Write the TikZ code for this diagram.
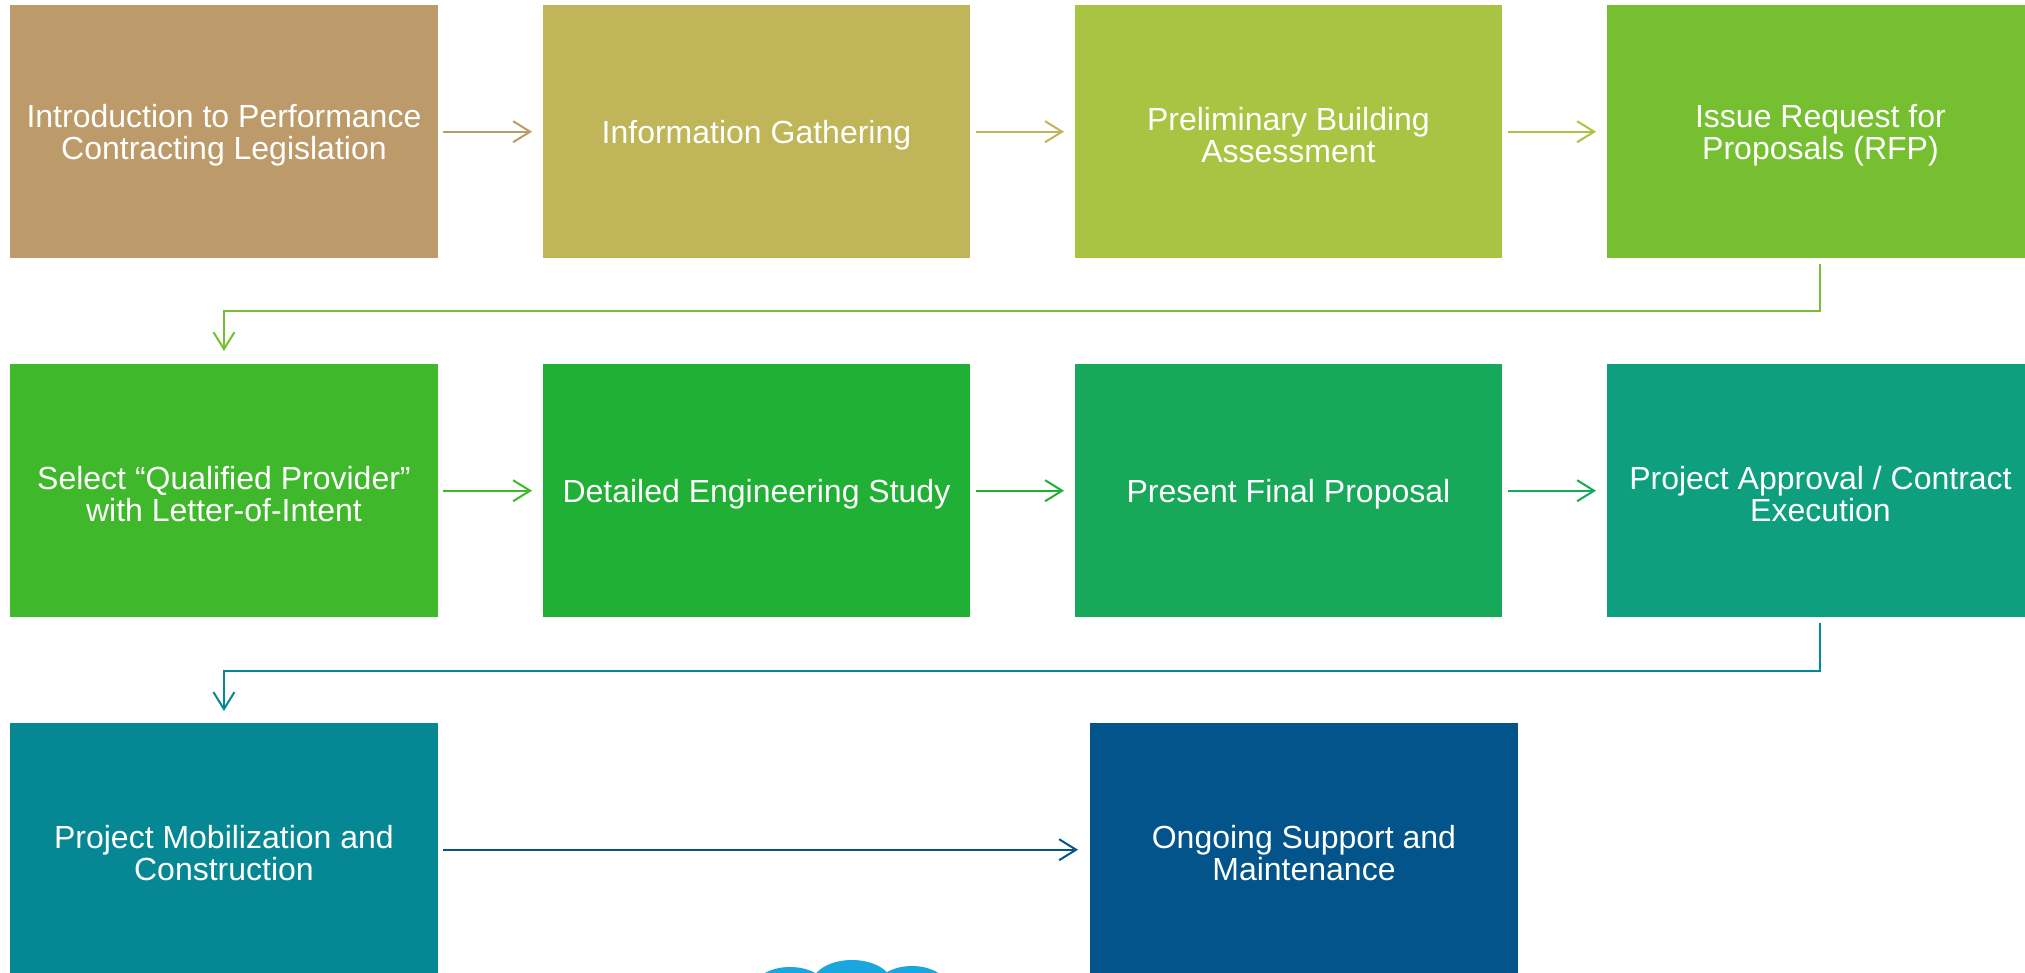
\documentclass[tikz,border=0pt]{standalone}
\usepackage{fontspec}
\setmainfont{Liberation Sans}
\usetikzlibrary{arrows.meta}

% step colours, from warm tan through greens to deep blue
\definecolor{c1}{HTML}{BC9A6A}
\definecolor{c2}{HTML}{C0B558}
\definecolor{c3}{HTML}{A9C443}
\definecolor{c4}{HTML}{76BF31}
\definecolor{c5}{HTML}{3FB82B}
\definecolor{c6}{HTML}{20B035}
\definecolor{c7}{HTML}{17A85A}
\definecolor{c8}{HTML}{0E9F7E}
\definecolor{c9}{HTML}{068894}
\definecolor{c10}{HTML}{02548A}
\definecolor{cloudblue}{HTML}{1AA7E0}

\begin{document}
\begin{tikzpicture}[x=1pt,y=-1pt,
  stepbox/.style={rectangle, fill=#1, draw=none, minimum width=427.5pt,
    minimum height=253pt, inner sep=0pt, anchor=north west},
  steptext/.style={inner sep=0pt, text=white, align=center,
    font=\fontsize{32}{32.5}\selectfont},
  flow/.style={draw=#1, line width=2pt,
    -{Straight Barb[length=17pt,width=21pt]}}]

\clip (0,0) rectangle (2025,972);
\fill[white] (0,0) rectangle (2025,972);

% row 1
\node[stepbox=c1] (s1) at (10,5)     {};
\node[stepbox=c2] (s2) at (542.5,5)  {};
\node[stepbox=c3] (s3) at (1074.5,5) {};
\node[stepbox=c4] (s4) at (1606.5,5) {};

% row 2
\node[stepbox=c5] (s5) at (10,364)     {};
\node[stepbox=c6] (s6) at (542.5,364)  {};
\node[stepbox=c7] (s7) at (1074.5,364) {};
\node[stepbox=c8] (s8) at (1606.5,364) {};

% row 3
\node[stepbox=c9]  (s9)  at (10,723)   {};
\node[stepbox=c10] (s10) at (1090,723) {};

% step captions
\node[steptext] (t1)  at ([yshift=-3.5pt]s1.center)  {Introduction to Performance\\Contracting Legislation};
\node[steptext] (t2)  at ([yshift=-3.5pt]s2.center)  {Information Gathering};
\node[steptext] (t3)  at ([yshift=-3.5pt]s3.center)  {Preliminary Building\\Assessment};
\node[steptext] (t4)  at ([yshift=-3.5pt]s4.center)  {Issue Request for\\Proposals (RFP)};
\node[steptext] (t5)  at ([yshift=-3.5pt]s5.center)  {Select “Qualified Provider”\\with Letter-of-Intent};
\node[steptext] (t6)  at ([yshift=-3.5pt]s6.center)  {Detailed Engineering Study};
\node[steptext] (t7)  at ([yshift=-3.5pt]s7.center)  {Present Final Proposal};
\node[steptext] (t8)  at ([yshift=-3.5pt]s8.center)  {Project Approval / Contract\\Execution};
\node[steptext] (t9)  at ([yshift=-3.5pt]s9.center)  {Project Mobilization and\\Construction};
\node[steptext] (t10) at ([yshift=-3.5pt]s10.center) {Ongoing Support and\\Maintenance};

% connectors within rows
\draw[flow=c1, shorten <=5.5pt, shorten >=10.5pt] (s1) -- (s2);
\draw[flow=c2, shorten <=5.5pt, shorten >=10.5pt] (s2) -- (s3);
\draw[flow=c3, shorten <=5.5pt, shorten >=10.5pt] (s3) -- (s4);
\draw[flow=c5, shorten <=5.5pt, shorten >=10.5pt] (s5) -- (s6);
\draw[flow=c6, shorten <=5.5pt, shorten >=10.5pt] (s6) -- (s7);
\draw[flow=c7, shorten <=5.5pt, shorten >=10.5pt] (s7) -- (s8);
\draw[flow=c10, shorten <=5.5pt, shorten >=12pt] (s9) -- (s10);

% connectors between rows
\draw[flow=c4, shorten <=6pt, shorten >=13pt] (s4.south) -- ++(0,53) -| (s5.north);
\draw[flow=c9, shorten <=6pt, shorten >=12pt] (s8.south) -- ++(0,53.5) -| (s9.north);

% cloud peeking in at the lower edge
\begin{scope}
  \fill[cloudblue] (790,988) ellipse [x radius=36pt, y radius=21pt];
  \fill[cloudblue] (852,984) ellipse [x radius=40pt, y radius=24pt];
  \fill[cloudblue] (912,988) ellipse [x radius=36pt, y radius=22pt];
  \fill[cloudblue] (770,975) rectangle (935,980);
\end{scope}

\end{tikzpicture}
\end{document}
